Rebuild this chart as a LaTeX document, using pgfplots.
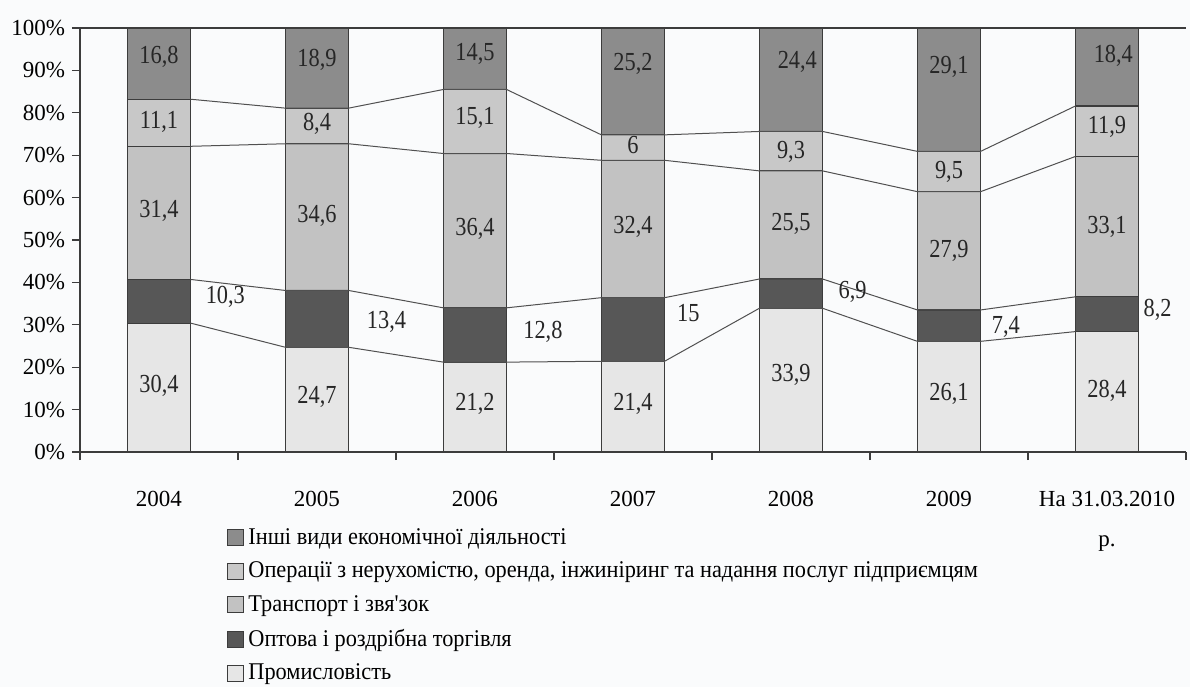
\documentclass[border=0pt]{standalone}
\usepackage{fontspec}
\setmainfont{Liberation Serif}[Ligatures=TeXOff]
\newfontfamily\lblfont{Liberation Serif}[FakeStretch=0.86, Ligatures=TeXOff]
\newfontfamily\legfont{Liberation Serif}[FakeStretch=0.93, Ligatures=TeXOff]
\usepackage{pgfplots}
\pgfplotsset{compat=1.18}
\usepackage{pgfplotstable}
\definecolor{cOther}{HTML}{8C8C8C}
\definecolor{cOps}{HTML}{C8C8C8}
\definecolor{cTrans}{HTML}{C2C2C2}
\definecolor{cTrade}{HTML}{575757}
\definecolor{cInd}{HTML}{E6E6E6}
\definecolor{edgec}{HTML}{3C3C3C}
\definecolor{linec}{HTML}{505050}
\definecolor{bgc}{HTML}{FAFBFC}

\pgfplotstableread{
x ind trade trans ops other
0 30.4 10.3 31.4 11.1 16.8
1 24.7 13.4 34.6 8.4 18.9
2 21.2 12.8 36.4 15.1 14.5
3 21.4 15.0 32.4 6.0 25.2
4 33.9 6.9 25.5 9.3 24.4
5 26.1 7.4 27.9 9.5 29.1
6 28.4 8.2 33.1 11.9 18.4
}\shares

\pgfplotstableread{
x y label
0 15.6 30,4
0 56.9 31,4
0 77.8 11,1
0 93.2 16,8
1 13.0 24,7
1 55.8 34,6
1 77.4 8,4
1 92.5 18,9
2 11.4 21,2
2 52.7 36,4
2 78.8 15,1
2 94.0 14,5
3 11.4 21,4
3 53.0 32,4
3 72.4 6
3 91.6 25,2
4 18.1 33,9
4 53.9 25,5
4 70.8 9,3
4.04 92.0 24,4
5 13.8 26,1
5 47.5 27,9
5 66.0 9,5
5 90.8 29,1
6 14.5 28,4
6 53.1 33,1
6 76.6 11,9
6.04 93.5 18,4
0.42 36.6 10,3
1.44 30.7 13,4
2.43 28.3 12,8
3.35 32.8 15
4.39 37.7 6,9
5.36 29.5 7,4
6.32 33.5 8,2
}\labels

\begin{document}
\begin{tikzpicture}
\path[use as bounding box, fill=bgc] (-40pt,-117.5pt) rectangle (555pt,226pt);
\begin{axis}[
  at={(0,0)}, anchor=south west,
  scale only axis, width=553pt, height=212pt,
  ybar stacked, bar width=0.4,
  xmin=-0.5, xmax=6.5, ymin=0, ymax=100,
  axis x line*=bottom, axis y line*=left,
  axis line style={draw=edgec, line width=0.6pt},
  tick align=outside,
  tick style={draw=edgec, line width=0.6pt},
  major tick length=4pt, minor tick length=4pt,
  xtick={0,...,6},
  xticklabels={2004,2005,2006,2007,2008,2009,{На 31.03.2010\\[7pt]р.}},
  major x tick style={draw=none},
  minor xtick={-0.5,0.5,1.5,2.5,3.5,4.5,5.5,6.5},
  xticklabel style={align=center, anchor=north, yshift=-12pt, font=\fontsize{11.5}{13}\selectfont},
  ytick={0,10,...,100},
  yticklabel={\pgfmathprintnumber{\tick}\%},
  yticklabel style={font=\fontsize{11.5}{13}\selectfont},
  /pgf/number format/assume math mode=true,
  legend style={at={(0.1275,-0.16)}, anchor=north west, draw=none, fill=none,
    font=\legfont\fontsize{12}{14}\selectfont, row sep=3.35pt,
    nodes={inner xsep=2pt}},
  legend cell align=left,
  legend image code/.code={\draw[#1, draw=edgec, line width=0.5pt] (0pt,-4pt) rectangle (8pt,4pt);},
  reverse legend,
]
\addplot[fill=cInd, draw=edgec, line width=0.6pt] table[x=x, y=ind] {\shares};
\addlegendentry{Промисловість}
\addplot[fill=cTrade, draw=edgec, line width=0.6pt] table[x=x, y=trade] {\shares};
\addlegendentry{Оптова і роздрібна торгівля}
\addplot[fill=cTrans, draw=edgec, line width=0.6pt] table[x=x, y=trans] {\shares};
\addlegendentry{Транспорт і звя'зок}
\addplot[fill=cOps, draw=edgec, line width=0.6pt] table[x=x, y=ops] {\shares};
\addlegendentry{Операції з нерухомістю, оренда, інжиніринг та надання послуг підприємцям}
\addplot[fill=cOther, draw=edgec, line width=0.6pt] table[x=x, y=other] {\shares};
\addlegendentry{Інші види економічної діяльності}
\end{axis}
\begin{axis}[
  at={(0,0)}, anchor=south west,
  scale only axis, width=553pt, height=212pt,
  xmin=-0.5, xmax=6.5, ymin=0, ymax=100,
  hide axis, clip=false,
]
\addplot[linec, line width=0.5pt] coordinates {(0.2,30.4) (0.8,24.7) (1.2,24.7) (1.8,21.2) (2.2,21.2) (2.8,21.4) (3.2,21.4) (3.8,33.9) (4.2,33.9) (4.8,26.1) (5.2,26.1) (5.8,28.4)};
\addplot[linec, line width=0.5pt] coordinates {(0.2,40.7) (0.8,38.1) (1.2,38.1) (1.8,34.0) (2.2,34.0) (2.8,36.4) (3.2,36.4) (3.8,40.8) (4.2,40.8) (4.8,33.5) (5.2,33.5) (5.8,36.6)};
\addplot[linec, line width=0.5pt] coordinates {(0.2,72.1) (0.8,72.7) (1.2,72.7) (1.8,70.4) (2.2,70.4) (2.8,68.8) (3.2,68.8) (3.8,66.3) (4.2,66.3) (4.8,61.4) (5.2,61.4) (5.8,69.7)};
\addplot[linec, line width=0.5pt] coordinates {(0.2,83.2) (0.8,81.1) (1.2,81.1) (1.8,85.5) (2.2,85.5) (2.8,74.8) (3.2,74.8) (3.8,75.6) (4.2,75.6) (4.8,70.9) (5.2,70.9) (5.8,81.6)};
\addplot[edgec, line width=0.6pt] coordinates {(-0.5,100) (6.5,100)};
\addplot[only marks, mark=*, mark size=0pt, mark options={draw=none, fill=none},
  nodes near coords, point meta=explicit symbolic,
  every node near coord/.style={anchor=center, inner sep=0pt, text=black!85, font=\lblfont\fontsize{13}{15}\selectfont}]
  table[x=x, y=y, meta=label] {\labels};
\end{axis}
\end{tikzpicture}
\end{document}
